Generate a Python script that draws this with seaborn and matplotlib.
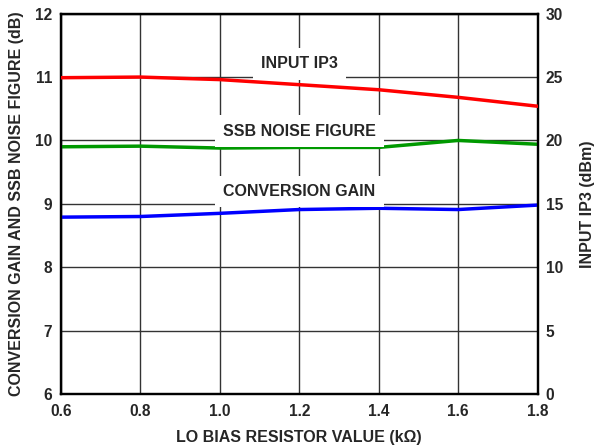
import pandas as pd
import matplotlib.pyplot as plt
import seaborn as sns

# Values
resistor_kohm = [0.6, 0.8, 1.0, 1.2, 1.4, 1.6, 1.8]
conversion_gain_db = [8.79, 8.80, 8.85, 8.91, 8.93, 8.91, 8.98]
ssb_noise_figure_db = [9.90, 9.91, 9.88, 9.89, 9.89, 10.00, 9.94]
input_ip3_dbm = [24.95, 25.0, 24.8, 24.4, 24.0, 23.4, 22.7]

x_ticks = [0.6, 0.8, 1.0, 1.2, 1.4, 1.6, 1.8]
left_ticks = [6, 7, 8, 9, 10, 11, 12]
right_ticks = [0, 5, 10, 15, 20, 25, 30]

sns.set_style('white')
plt.rcParams['font.family'] = ['Liberation Sans', 'DejaVu Sans']
plt.rcParams['font.weight'] = 'bold'
plt.rcParams['axes.labelweight'] = 'bold'

TICK_FS = 11.2
LABEL_FS = 11.5

df = pd.DataFrame({
    'r': resistor_kohm,
    'gain': conversion_gain_db,
    'nf': ssb_noise_figure_db,
    'ip3': input_ip3_dbm,
})

fig = plt.figure(figsize=(5.95, 4.47), dpi=100)
ax = fig.add_axes([0.1025, 0.1186, 0.8009, 0.8508])
ax2 = ax.twinx()

ax.grid(True, color='#333333', linewidth=1.0)
ax.set_axisbelow(True)

sns.lineplot(data=df, x='r', y='gain', ax=ax, color='#0000ff', linewidth=2.5, zorder=3)
sns.lineplot(data=df, x='r', y='nf', ax=ax, color='#009900', linewidth=2.5, zorder=3)
sns.lineplot(data=df, x='r', y='ip3', ax=ax2, color='#ff0000', linewidth=2.5, zorder=3)

ax.set_xlim(0.6, 1.8)
ax.set_ylim(6, 12)
ax2.set_ylim(0, 30)
ax.set_xticks(x_ticks)
ax.set_xticklabels([f'{v:.1f}' for v in x_ticks], fontweight='bold')
ax.set_yticks(left_ticks)
ax.set_yticklabels([str(v) for v in left_ticks], fontweight='bold')
ax2.set_yticks(right_ticks)
ax2.set_yticklabels([str(v) for v in right_ticks], fontweight='bold')

ax.tick_params(axis='x', length=0, labelsize=TICK_FS, pad=7)
ax.tick_params(axis='y', length=0, labelsize=TICK_FS, pad=6.5)
ax2.tick_params(axis='y', length=0, labelsize=TICK_FS, pad=5.8)
for a in (ax, ax2):
    for s in a.spines.values():
        s.set_linewidth(1.6)
        s.set_color('black')

ax.set_xlabel('LO BIAS RESISTOR VALUE (k\u03a9)', fontsize=LABEL_FS, fontweight='bold')
ax.set_ylabel('CONVERSION GAIN AND SSB NOISE FIGURE (dB)', fontsize=LABEL_FS, fontweight='bold')
ax2.set_ylabel('INPUT IP3 (dBm)', fontsize=LABEL_FS, fontweight='bold')
ax.xaxis.set_label_coords(0.5, -0.095)
ax.yaxis.set_label_coords(-0.078, 0.5)
ax2.yaxis.set_label_coords(1.089, 0.5)

box = dict(facecolor='white', edgecolor='none', pad=6)
ax.text(1.2, 11.21, 'INPUT IP3', ha='center', va='center', fontsize=LABEL_FS,
        fontweight='bold', bbox=box, zorder=4)
ax.text(1.2, 10.145, 'SSB NOISE FIGURE', ha='center', va='center', fontsize=LABEL_FS,
        fontweight='bold', bbox=box, zorder=4)
ax.text(1.2, 9.197, 'CONVERSION GAIN', ha='center', va='center', fontsize=LABEL_FS,
        fontweight='bold', bbox=box, zorder=4)

fig.savefig('out.png', dpi=100)
